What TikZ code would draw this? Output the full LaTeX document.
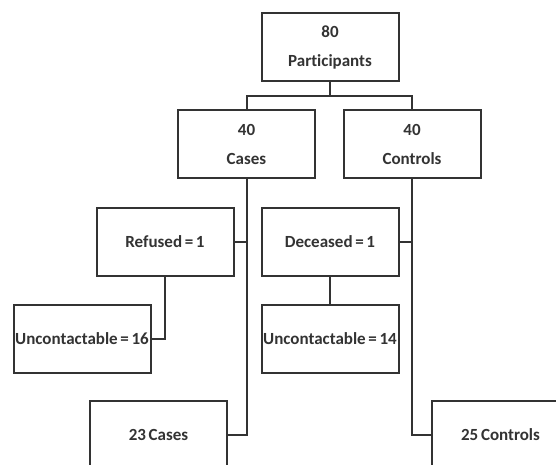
\documentclass[tikz,border=0pt]{standalone}
\usepackage{fontspec}
\setmainfont{Carlito}[WordSpace=0.7, Ligatures=NoCommon]
\begin{document}
\begin{tikzpicture}[x=1pt,y=-1pt,
  box/.style={draw=black!80, line width=2pt, fill=white, minimum width=137pt, minimum height=68pt,
    inner sep=0pt, align=center, font=\fontsize{17}{29}\selectfont\bfseries, text=black!80},
  link/.style={draw=black!80, line width=2pt}]
\clip (0,0) rectangle (556,464);
\fill[white] (0,0) rectangle (556,464);
\node[box] (top) at (330,47) {80\\Participants};
\node[box] (cases) at (246.5,144) {40\\Cases};
\node[box] (controls) at (412,144) {40\\Controls};
\node[box] (refused) at (165,241.5) {Refused = 1};
\node[box] (deceased) at (330,241.5) {Deceased = 1};
\node[box] (unc16) at (82,338.5) {Uncontactable = 16};
\node[box] (unc14) at (330,338.5) {Uncontactable = 14};
\node[box] (cases23) at (158.5,435) {23 Cases};
\node[box] (controls25) at (500.5,435) {25 Controls};
\coordinate (split) at (330,96);
\draw[link] (top.south) -- (split);
\draw[link] (split) -| (cases.north);
\draw[link] (split) -| (controls.north);
\draw[link] (cases.south) |- (cases23.east);
\draw[link] (controls.south) |- (controls25.west);
\draw[link] (refused.east) -- (refused.east -| cases.south);
\draw[link] (deceased.east) -- (deceased.east -| controls.south);
\draw[link] (refused.south) |- (unc16.east);
\draw[link] (deceased.south) -- (unc14.north);
\end{tikzpicture}
\end{document}
